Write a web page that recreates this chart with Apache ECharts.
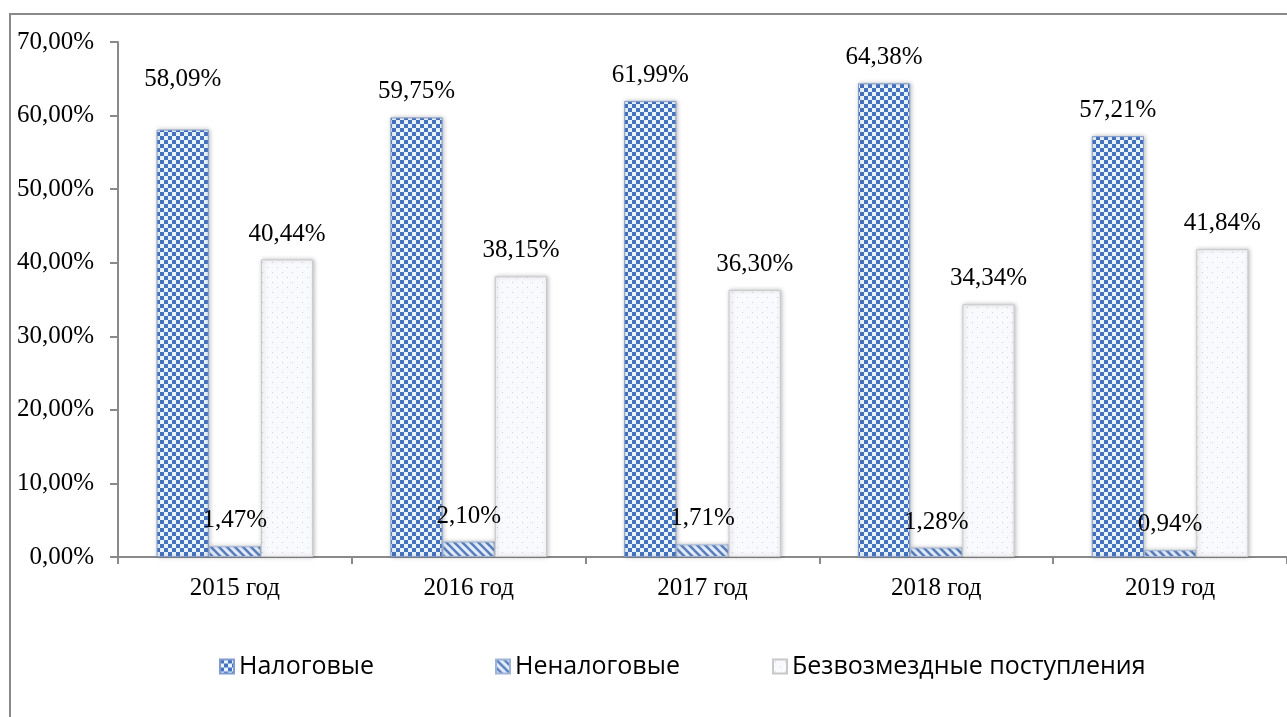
<!DOCTYPE html>
<html>
<head>
<meta charset="utf-8">
<script src="https://cdn.jsdelivr.net/npm/echarts@6/dist/echarts.min.js"></script>
<style>
  html, body { margin: 0; padding: 0; background: #fff; }
  #chart { width: 1287px; height: 717px; }
</style>
</head>
<body>
<div id="chart"></div>
<script>
// данные
var years = ['2015 год', '2016 год', '2017 год', '2018 год', '2019 год'];
var nalogovye = [58.09, 59.75, 61.99, 64.38, 57.21];
var nenalogovye = [1.47, 2.10, 1.71, 1.28, 0.94];
var bezvozmezdnye = [40.44, 38.15, 36.30, 34.34, 41.84];
var seriesNames = ['Налоговые', 'Неналоговые', 'Безвозмездные поступления'];

// текстуры столбиков
function checker() {
    var c = document.createElement('canvas');
    c.width = 8; c.height = 8;
    var g = c.getContext('2d');
    g.fillStyle = '#eaf4fd';
    g.fillRect(0, 0, 8, 8);
    g.fillStyle = '#4673c0';
    g.fillRect(0, 0, 4, 4);
    g.fillRect(4, 4, 4, 4);
    return c;
}
function stripes() {
    var c = document.createElement('canvas');
    c.width = 8; c.height = 8;
    var g = c.getContext('2d');
    g.fillStyle = '#e4eefa';
    g.fillRect(0, 0, 8, 8);
    g.strokeStyle = '#5b80c0';
    g.lineWidth = 2.5;
    g.beginPath();
    g.moveTo(-2, -2); g.lineTo(10, 10);
    g.moveTo(-6, 2); g.lineTo(6, 14);
    g.moveTo(2, -6); g.lineTo(14, 6);
    g.stroke();
    return c;
}
function dots() {
    var c = document.createElement('canvas');
    c.width = 10; c.height = 10;
    var g = c.getContext('2d');
    g.fillStyle = '#f8fafd';
    g.fillRect(0, 0, 10, 10);
    g.fillStyle = '#c9ced6';
    g.fillRect(2, 2, 1, 1);
    g.fillRect(7, 7, 1, 1);
    return c;
}

function pct(v) {
    return v.toFixed(2).replace('.', ',') + '%';
}

var fills = [checker(), stripes(), dots()];
var borders = ['#7f9bcf', '#9fb3d6', '#c8c8c8'];
var values = [nalogovye, nenalogovye, bezvozmezdnye];

var series = seriesNames.map(function (name, i) {
    return {
        name: name,
        type: 'bar',
        barGap: '0%',
        barCategoryGap: '33%',
        data: values[i].map(function (v, j) {
            var item = { value: v };
            if (i === 0 && j === 0) item.label = { offset: [0, -25] };
            return item;
        }),
        itemStyle: {
            color: { image: fills[i], repeat: 'repeat' },
            borderColor: borders[i],
            borderWidth: 1,
            shadowColor: 'rgba(0,0,0,0.25)',
            shadowBlur: 4,
            shadowOffsetX: 1
        },
        label: {
            show: true,
            position: 'top',
            distance: 13,
            color: '#000',
            fontFamily: 'Liberation Serif',
            fontSize: 25,
            formatter: function (p) { return pct(p.value); }
        }
    };
});

var legendLefts = [214, 490, 767];
var legends = seriesNames.map(function (name, i) {
    return {
        data: [name],
        left: legendLefts[i],
        top: 649,
        itemWidth: 14,
        itemHeight: 14,
        icon: 'rect',
        itemGap: 8,
        textStyle: { fontFamily: 'Open Sans', fontSize: 25, color: '#000' }
    };
});

var myChart = echarts.init(document.getElementById('chart'));
var option = {
    backgroundColor: '#fff',
    animation: false,
    graphic: [{
        type: 'rect',
        shape: { x: 10, y: 14, width: 1320, height: 740 },
        style: { fill: null, stroke: '#8a8a8a', lineWidth: 2 },
        silent: true
    }],
    legend: legends,
    grid: { left: 118, right: -10, top: 42, bottom: 160, containLabel: false },
    xAxis: {
        type: 'category',
        data: years,
        axisLine: { lineStyle: { color: '#8a8a8a', width: 2 } },
        axisTick: { show: true, length: 7, lineStyle: { color: '#8a8a8a', width: 2 } },
        axisLabel: { color: '#000', fontFamily: 'Liberation Serif', fontSize: 25, margin: 19 }
    },
    yAxis: {
        type: 'value',
        min: 0,
        max: 70,
        interval: 10,
        splitLine: { show: false },
        axisLine: { show: true, lineStyle: { color: '#8a8a8a', width: 2 } },
        axisTick: { show: true, length: 8, lineStyle: { color: '#8a8a8a', width: 2 } },
        axisLabel: {
            color: '#000',
            fontFamily: 'Liberation Serif',
            fontSize: 25,
            margin: 24,
            formatter: function (v) { return pct(v); }
        }
    },
    series: series
};
myChart.setOption(option);
</script>
</body>
</html>
